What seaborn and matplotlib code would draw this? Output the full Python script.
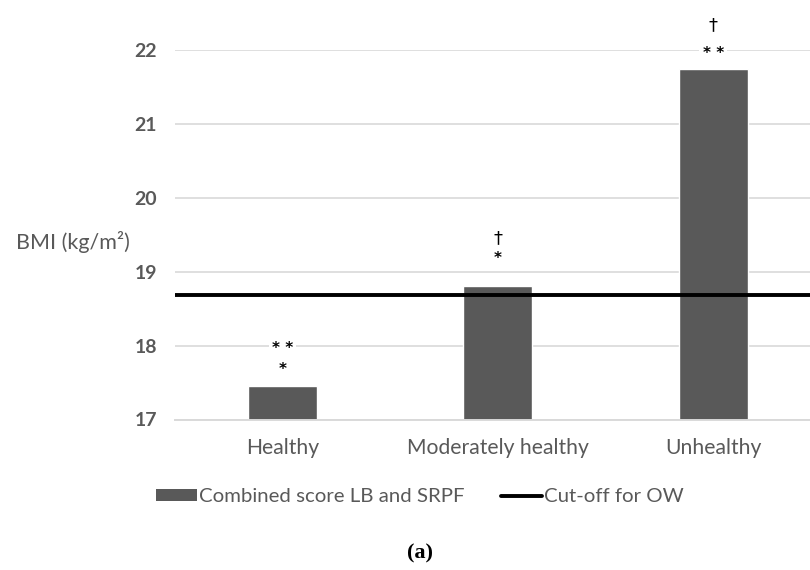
import matplotlib
matplotlib.use("Agg")
import matplotlib.pyplot as plt
from matplotlib.patches import Patch
from matplotlib.lines import Line2D
import seaborn as sns
import pandas as pd

categories = ["Healthy", "Moderately healthy", "Unhealthy"]
bmi_values = [17.45, 18.81, 21.74]
cutoff_ow = 18.69
# significance marks above each bar, listed from the bar upwards
sig_marks = [["*", "**"], ["*", "†"], ["**", "†"]]
y_ticks = [17, 18, 19, 20, 21, 22]

bar_color = "#595959"
text_color = "#595959"
grid_color = "#d9d9d9"

sns.set_theme(style="white")
plt.rcParams["font.family"] = ["Lato", "DejaVu Sans"]

fig = plt.figure(figsize=(8.1, 5.7), dpi=100)
ax = fig.add_axes([175 / 810, 1 - 419.5 / 570, 1 - 175 / 810, (419.5 - 50) / 570])

df = pd.DataFrame({"group": categories, "bmi": bmi_values})
sns.barplot(data=df, x="group", y="bmi", color=bar_color, width=0.32,
            saturation=1, ax=ax, zorder=2)

ax.set_ylim(17, 22)
ax.set_xlim(-0.5, 2.45)
ax.set_yticks(y_ticks)
ax.yaxis.grid(True, color=grid_color, linewidth=1.2, zorder=0)
ax.set_axisbelow(True)
for s in ["top", "right", "left"]:
    ax.spines[s].set_visible(False)
ax.spines["bottom"].set_color(grid_color)
ax.spines["bottom"].set_linewidth(1.4)
ax.tick_params(axis="both", length=0, colors=text_color)
ax.tick_params(axis="y", labelsize=14, pad=13)
ax.tick_params(axis="x", labelsize=15.2, pad=13)
for lab in ax.get_yticklabels():
    lab.set_fontweight("bold")
ax.set_xlabel("")
ax.set_ylabel("")

ax.axhline(cutoff_ow, color="black", linewidth=2.8, zorder=3)

# stacked significance marks with white label boxes
line_offsets = {0: [17, 38], 1: [27, 48], 2: [16, 44]}
for i, (val, marks) in enumerate(zip(bmi_values, sig_marks)):
    for j, m in enumerate(marks):
        shown = m.replace("**", "* *")
        ax.annotate(shown, xy=(i, val), xytext=(0, line_offsets[i][j] * 0.72),
                    textcoords="offset points", ha="center", va="center",
                    fontsize=13 if m == "†" else 11, color="black",
                    family=["DejaVu Sans"], fontweight="bold" if m != "†" else "normal",
                    bbox=dict(boxstyle="square,pad=0.2", fc="white", ec="none"),
                    annotation_clip=False, zorder=4)

fig.text(16 / 810, 1 - 242 / 570, "BMI (kg/m²)", color=text_color,
         fontsize=15.5, ha="left", va="center")

handles = [Patch(facecolor=bar_color, edgecolor="none", label="Combined score LB and SRPF"),
           Line2D([0], [0], color="black", linewidth=2.8, label="Cut-off for OW")]
leg = fig.legend(handles=handles, loc="center", bbox_to_anchor=(420 / 810, 1 - 497 / 570),
                 ncol=2, frameon=False, fontsize=14.7, handlelength=2.0,
                 handleheight=0.5, handletextpad=0.1, columnspacing=1.8)
for t in leg.get_texts():
    t.set_color(text_color)

fig.text(420 / 810, 1 - 553 / 570, "(a)", fontsize=16, fontweight="bold",
         family=["Liberation Serif", "DejaVu Serif"], ha="center", va="center",
         color="black")

fig.savefig("out.png", dpi=100, facecolor="white")
